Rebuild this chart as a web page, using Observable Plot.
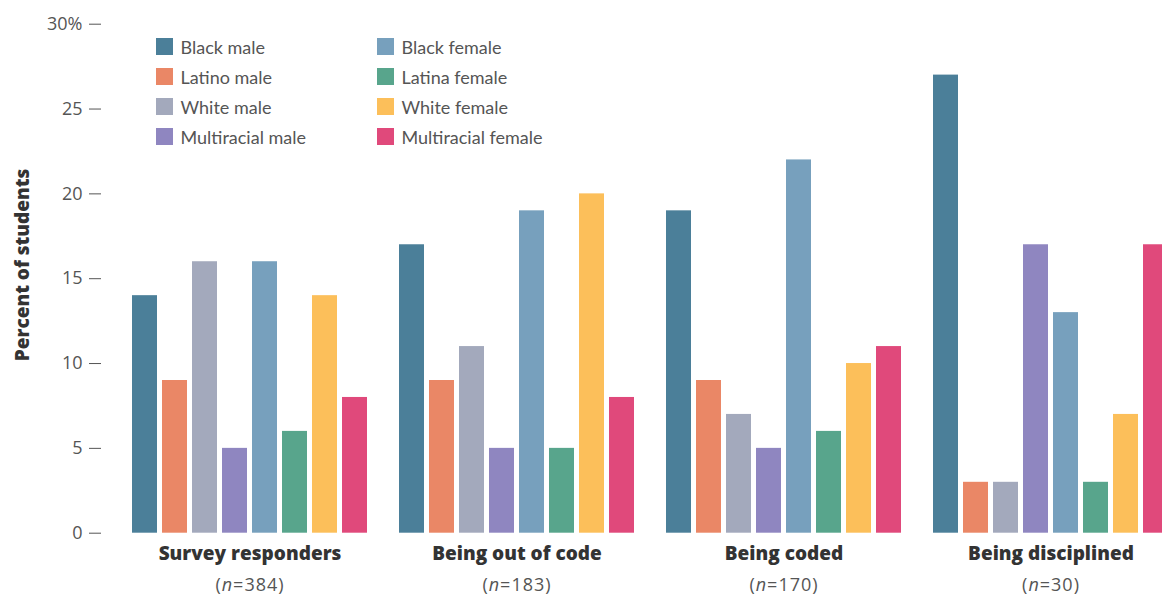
<!DOCTYPE html>
<html><head><meta charset="utf-8">
<script src="https://cdn.jsdelivr.net/npm/d3@7"></script>
<script src="https://cdn.jsdelivr.net/npm/@observablehq/plot@0.6"></script>
<style>
html,body{margin:0;padding:0;background:#fff;overflow:hidden}
#wrap{position:relative;width:1162px;height:598px}
#legend{position:absolute;left:0;top:0;font-family:Lato,"Open Sans",sans-serif;font-size:18px;color:#555}
.sw{position:absolute;display:flex;align-items:center;height:30px;white-space:nowrap}
.sw i{display:inline-block;width:17px;height:17px;margin-right:8px}
#ylab{position:absolute;left:22px;top:265px;transform:translate(-50%,-50%) rotate(-90deg);font:800 19px "Open Sans",sans-serif;color:#333;white-space:nowrap}
.nlab{letter-spacing:1px}
</style></head><body><div id="wrap"></div>
<script>
const groups = ["Survey responders", "Being out of code", "Being coded", "Being disciplined"];
const groupN = ["384", "183", "170", "30"];
const subgroups = ["Black male", "Latino male", "White male", "Multiracial male",
                   "Black female", "Latina female", "White female", "Multiracial female"];
const colors = ["#4b7f99", "#ea8766", "#a3a9bc", "#8f86c0", "#77a0bd", "#58a58c", "#fcbf5a", "#e0497b"];
const surveyResponders = [14, 9, 16, 5, 16, 6, 14, 8];
const beingOutOfCode   = [17, 9, 11, 5, 19, 5, 20, 8];
const beingCoded       = [19, 9, 7, 5, 22, 6, 10, 11];
const beingDisciplined = [27, 3, 3, 17, 13, 3, 7, 17];
const yTicks = [0, 5, 10, 15, 20, 25, 30];

const series = [surveyResponders, beingOutOfCode, beingCoded, beingDisciplined];
const data = groups.flatMap((g, i) => subgroups.map((s, j) => ({group: g, sub: s, value: series[i][j]})));

const chart = Plot.plot({
  width: 1162, height: 598,
  marginTop: 23.7, marginBottom: 65.3, marginLeft: 100, marginRight: -39,
  style: {fontFamily: "'Open Sans', sans-serif", fontSize: "18px", color: "#555", background: "transparent"},
  fx: {domain: groups, paddingInner: 0.112, paddingOuter: 0.112, axis: null},
  x: {domain: subgroups, paddingInner: 0.158, paddingOuter: 0, axis: null},
  y: {domain: [0, 30]},
  color: {domain: subgroups, range: colors},
  marks: [
    Plot.axisY({ticks: yTicks, tickFormat: d => d === 30 ? "30%" : String(d), tickSize: 12, tickPadding: 7, dx: -30, label: null, stroke: "#555"}),
    Plot.barY(data, {fx: "group", x: "sub", y: "value", fill: "sub"}),
    Plot.text(groups, {fx: d => d, text: d => d, frameAnchor: "bottom", dy: 21, lineAnchor: "middle",
      fontWeight: 800, fontSize: 19, fontFamily: "'Open Sans', sans-serif", fill: "#333"}),
    Plot.text(groups, {fx: d => d, text: (d, i) => `(n=${groupN[i]})`, frameAnchor: "bottom", dy: 52, lineAnchor: "middle",
      fontSize: 18, fontFamily: "'Open Sans', sans-serif", fill: "#555"})
  ]
});

chart.querySelectorAll("text").forEach(t => {
  const s = t.textContent;
  if (s.startsWith("(n=")) {
    t.textContent = "";
    t.setAttribute("class", "nlab");
    const ns = "http://www.w3.org/2000/svg";
    const a = document.createElementNS(ns, "tspan"); a.textContent = "(";
    const b = document.createElementNS(ns, "tspan"); b.textContent = "n"; b.setAttribute("font-style", "italic");
    const c = document.createElementNS(ns, "tspan"); c.textContent = s.slice(2);
    t.append(a, b, c);
  }
});

const wrap = document.getElementById("wrap");
wrap.appendChild(chart);

const legend = document.createElement("div");
legend.id = "legend";
subgroups.forEach((s, i) => {
  const col = Math.floor(i / 4), row = i % 4;
  const d = document.createElement("div");
  d.className = "sw";
  d.style.left = (col === 0 ? 155.5 : 376.5) + "px";
  d.style.top = (31.5 + row * 30) + "px";
  const sw = document.createElement("i");
  sw.style.background = colors[i];
  d.appendChild(sw);
  d.appendChild(document.createTextNode(s));
  legend.appendChild(d);
});
wrap.appendChild(legend);

const ylab = document.createElement("div");
ylab.id = "ylab";
ylab.textContent = "Percent of students";
wrap.appendChild(ylab);
</script>
</body></html>
